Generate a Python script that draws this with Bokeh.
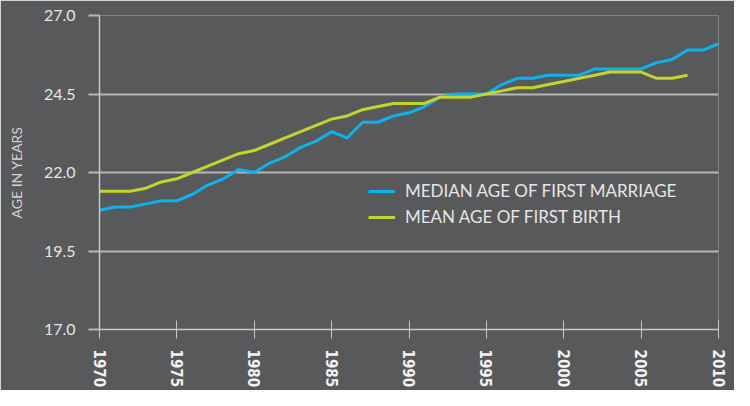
from bokeh.plotting import figure
from bokeh.models import FixedTicker, PrintfTickFormatter, Range1d, Legend, LegendItem
from bokeh.embed import file_html
from bokeh.resources import INLINE

years_marriage = list(range(1970, 2011))
median_first_marriage = [20.8, 20.9, 20.9, 21.0, 21.1, 21.1, 21.3, 21.6, 21.8, 22.1,
                         22.0, 22.3, 22.5, 22.8, 23.0, 23.3, 23.1, 23.6, 23.6, 23.8,
                         23.9, 24.1, 24.4, 24.5, 24.5, 24.5, 24.8, 25.0, 25.0, 25.1,
                         25.1, 25.1, 25.3, 25.3, 25.3, 25.3, 25.5, 25.6, 25.9, 25.9,
                         26.1]
years_birth = list(range(1970, 2009))
mean_first_birth = [21.4, 21.4, 21.4, 21.5, 21.7, 21.8, 22.0, 22.2, 22.4, 22.6,
                    22.7, 22.9, 23.1, 23.3, 23.5, 23.7, 23.8, 24.0, 24.1, 24.2,
                    24.2, 24.2, 24.4, 24.4, 24.4, 24.5, 24.6, 24.7, 24.7, 24.8,
                    24.9, 25.0, 25.1, 25.2, 25.2, 25.2, 25.0, 25.0, 25.1]
x_ticks = [1970, 1975, 1980, 1985, 1990, 1995, 2000, 2005, 2010]
y_ticks = [17.0, 19.5, 22.0, 24.5, 27.0]

BG = "#58595b"
BLUE = "#0db1ec"
YELLOW = "#c5d42b"

p = figure(width=734, height=390, output_backend="svg", toolbar_location=None,
           x_range=Range1d(1970, 2010), y_range=Range1d(17, 27),
           min_border_left=99, min_border_right=16, min_border_top=15, min_border_bottom=49)
p.background_fill_color = BG
p.border_fill_color = BG
p.outline_line_color = None

r1 = p.line(years_marriage, median_first_marriage, line_color=BLUE, line_width=3)
r2 = p.line(years_birth, mean_first_birth, line_color=YELLOW, line_width=3)

# axes
p.xaxis.ticker = FixedTicker(ticks=x_ticks)
p.xaxis.minor_tick_line_color = None
p.xaxis.major_tick_in = 9
p.xaxis.major_tick_out = 9
p.xaxis.major_tick_line_color = "#c8c8c8"
p.xaxis.axis_line_color = "#c8c8c8"
p.xaxis.axis_line_width = 1.5
p.xaxis.major_label_orientation = "vertical"
p.xaxis.major_label_text_font = "'Liberation Sans Narrow', 'DejaVu Sans Condensed', sans-serif"
p.xaxis.major_label_text_font_style = "bold"
p.xaxis.major_label_text_font_size = "15px"
p.xaxis.major_label_text_color = "#f2f2f2"
p.xaxis.major_label_standoff = 11

p.yaxis.ticker = FixedTicker(ticks=y_ticks)
p.yaxis.formatter = PrintfTickFormatter(format="%.1f")
p.yaxis.minor_tick_line_color = None
p.yaxis.major_tick_in = 0
p.yaxis.major_tick_out = 11
p.yaxis.major_tick_line_color = "#b8b8b8"
p.yaxis.major_tick_line_width = 2
p.yaxis.axis_line_color = "#c8c8c8"
p.yaxis.axis_line_width = 1.5
p.yaxis.major_label_text_font = "Lato"
p.yaxis.major_label_text_font_size = "16px"
p.yaxis.major_label_text_color = "#e6e6e6"
p.yaxis.major_label_standoff = 13
p.yaxis.axis_label = "AGE IN YEARS"
p.yaxis.axis_label_text_font = "Lato"
p.yaxis.axis_label_text_font_style = "normal"
p.yaxis.axis_label_text_font_size = "14px"
p.yaxis.axis_label_text_color = "#d2d2d2"
p.yaxis.axis_label_standoff = 16

p.xgrid.grid_line_color = None
p.ygrid.ticker = FixedTicker(ticks=y_ticks)
p.ygrid.grid_line_color = "#b8b8b8"
p.ygrid.grid_line_width = 2

legend = Legend(items=[LegendItem(label="MEDIAN AGE OF FIRST MARRIAGE", renderers=[r1]),
                       LegendItem(label="MEAN AGE OF FIRST BIRTH", renderers=[r2])],
                location=(269, 102))
legend.background_fill_alpha = 0
legend.border_line_color = None
legend.padding = 0
legend.margin = 0
legend.spacing = 5
legend.glyph_width = 27
legend.glyph_height = 20
legend.label_height = 20
legend.label_standoff = 10
legend.label_text_font = "Lato"
legend.label_text_font_size = "17px"
legend.label_text_color = "#e6e6e6"
p.add_layout(legend, "center")

html = file_html(p, INLINE)
html = html.replace("<body>", '<body style="background:%s">' % BG, 1)
open("out.html", "w").write(html)
